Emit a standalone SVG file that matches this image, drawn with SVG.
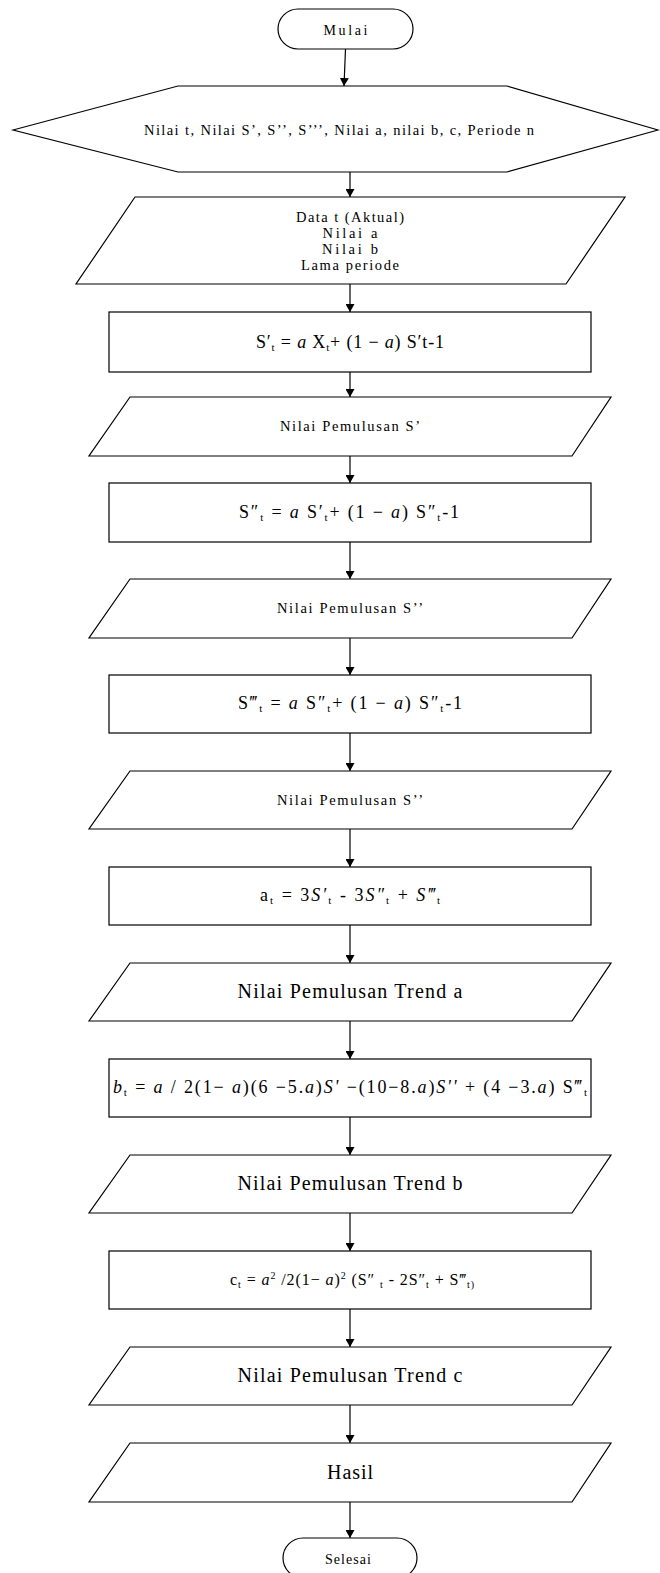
<svg xmlns="http://www.w3.org/2000/svg" width="660" height="1573" viewBox="0 0 660 1573">
<defs>
<marker id="arr" markerUnits="userSpaceOnUse" markerWidth="9" markerHeight="9" refX="8" refY="4.5" orient="auto">
<path d="M0,0 L8,4.5 L0,9 z" fill="#000"/>
</marker>
<style>
.shape{fill:#fff;stroke:#000;stroke-width:1.2}
.conn{stroke:#000;stroke-width:1.2;fill:none;marker-end:url(#arr)}
.t{font-family:"Liberation Serif","Times New Roman",serif;fill:#000;text-anchor:middle}
.s{font-size:14px}
.m{font-size:14.5px}
.f{font-size:18px}
.l{font-size:20px}
.i{font-style:italic}
</style>
</defs>
<rect width="660" height="1573" fill="#fff"/>
<g id="connectors">
<line class="conn" x1="345.5" y1="49" x2="344" y2="86"/>
<line class="conn" x1="350" y1="172" x2="350" y2="197"/>
<line class="conn" x1="350" y1="284" x2="350" y2="312"/>
<line class="conn" x1="350" y1="372" x2="350" y2="397"/>
<line class="conn" x1="350" y1="456" x2="350" y2="483"/>
<line class="conn" x1="350" y1="542" x2="350" y2="579"/>
<line class="conn" x1="350" y1="638" x2="350" y2="675"/>
<line class="conn" x1="350" y1="733" x2="350" y2="771"/>
<line class="conn" x1="350" y1="829" x2="350" y2="867"/>
<line class="conn" x1="350" y1="925" x2="350" y2="963"/>
<line class="conn" x1="350" y1="1021" x2="350" y2="1059"/>
<line class="conn" x1="350" y1="1117" x2="350" y2="1155"/>
<line class="conn" x1="350" y1="1213" x2="350" y2="1251"/>
<line class="conn" x1="350" y1="1309" x2="350" y2="1347"/>
<line class="conn" x1="350" y1="1405" x2="350" y2="1443"/>
<line class="conn" x1="350" y1="1502" x2="350" y2="1538"/>
</g>
<g id="mulai">
<rect class="shape" x="278" y="9" width="135" height="40" rx="20" ry="20"/>
<text class="t s" x="345.5" y="34.5" textLength="44" lengthAdjust="spacing">Mulai</text>
</g>
<g id="input-hex">
<polygon class="shape" points="13,130 178,86 507,86 658,130 507,172 178,172"/>
<text class="t m" x="339" y="134.5" textLength="390" lengthAdjust="spacing">Nilai t, Nilai S’, S’’, S’’’, Nilai a, nilai b, c, Periode n</text>
</g>
<g id="data-input">
<polygon class="shape" points="135,197 625,197 566,284 76,284"/>
<text class="t m" x="350" y="221.5" textLength="108" lengthAdjust="spacing">Data t (Aktual)</text>
<text class="t m" x="350" y="237.5" textLength="55" lengthAdjust="spacing">Nilai a</text>
<text class="t m" x="350" y="253.5" textLength="56" lengthAdjust="spacing">Nilai b</text>
<text class="t m" x="350" y="269.5" textLength="98" lengthAdjust="spacing">Lama periode</text>
</g>
<g id="proc-s1">
<rect class="shape" x="109" y="312" width="482" height="60"/>
<text class="t f" x="350" y="348" textLength="188" lengthAdjust="spacing">S′<tspan dy="3" font-size="11">t</tspan><tspan dy="-3"> = </tspan><tspan class="i">a</tspan> X<tspan dy="3" font-size="11">t</tspan><tspan dy="-3">+ (1 − </tspan><tspan class="i">a</tspan>) S′t-1</text>
</g>
<g id="out-s1">
<polygon class="shape" points="130,397 611,397 572,456 89,456"/>
<text class="t m" x="350" y="431" textLength="140" lengthAdjust="spacing">Nilai Pemulusan S’</text>
</g>
<g id="proc-s2">
<rect class="shape" x="109" y="483" width="482" height="59"/>
<text class="t f" x="349" y="518" textLength="220" lengthAdjust="spacing">S″<tspan dy="3" font-size="11">t</tspan><tspan dy="-3"> = </tspan><tspan class="i">a</tspan> S′<tspan dy="3" font-size="11">t</tspan><tspan dy="-3">+ (1 − </tspan><tspan class="i">a</tspan>) S″<tspan dy="3" font-size="11">t</tspan><tspan dy="-3">-1</tspan></text>
</g>
<g id="out-s2">
<polygon class="shape" points="130,579 611,579 572,638 89,638"/>
<text class="t m" x="350" y="613" textLength="146" lengthAdjust="spacing">Nilai Pemulusan S’’</text>
</g>
<g id="proc-s3">
<rect class="shape" x="109" y="675" width="482" height="58"/>
<text class="t f" x="350" y="709" textLength="224" lengthAdjust="spacing">S‴<tspan dy="3" font-size="11">t</tspan><tspan dy="-3"> = </tspan><tspan class="i">a</tspan> S″<tspan dy="3" font-size="11">t</tspan><tspan dy="-3">+ (1 − </tspan><tspan class="i">a</tspan>) S″<tspan dy="3" font-size="11">t</tspan><tspan dy="-3">-1</tspan></text>
</g>
<g id="out-s3">
<polygon class="shape" points="130,771 611,771 572,829 89,829"/>
<text class="t m" x="350" y="805" textLength="146" lengthAdjust="spacing">Nilai Pemulusan S’’</text>
</g>
<g id="proc-a">
<rect class="shape" x="109" y="867" width="482" height="58"/>
<text class="t f" x="350" y="901" textLength="180" lengthAdjust="spacing">a<tspan dy="3" font-size="11">t</tspan><tspan dy="-3"> = 3</tspan><tspan class="i">S′</tspan><tspan dy="3" font-size="11">t</tspan><tspan dy="-3"> - 3</tspan><tspan class="i">S″</tspan><tspan dy="3" font-size="11">t</tspan><tspan dy="-3"> + </tspan><tspan class="i">S‴</tspan><tspan dy="3" font-size="11">t</tspan></text>
</g>
<g id="out-a">
<polygon class="shape" points="130,963 611,963 572,1021 89,1021"/>
<text class="t l" x="350" y="998" textLength="225" lengthAdjust="spacing">Nilai Pemulusan Trend a</text>
</g>
<g id="proc-b">
<rect class="shape" x="109" y="1059" width="482" height="58"/>
<text class="t f" x="350" y="1093" textLength="474" lengthAdjust="spacing"><tspan class="i">b</tspan><tspan dy="3" font-size="11">t</tspan><tspan dy="-3"> = </tspan><tspan class="i">a</tspan> / 2(1− <tspan class="i">a</tspan>)(6 −5.<tspan class="i">a</tspan>)<tspan class="i">S'</tspan> −(10−8.<tspan class="i">a</tspan>)<tspan class="i">S''</tspan> + (4 −3.<tspan class="i">a</tspan>) S‴<tspan dy="3" font-size="11">t</tspan></text>
</g>
<g id="out-b">
<polygon class="shape" points="130,1155 611,1155 572,1213 89,1213"/>
<text class="t l" x="350" y="1190" textLength="225" lengthAdjust="spacing">Nilai Pemulusan Trend b</text>
</g>
<g id="proc-c">
<rect class="shape" x="109" y="1251" width="482" height="58"/>
<text class="t f" x="352" y="1285" style="font-size:16px" textLength="244" lengthAdjust="spacing">c<tspan dy="3" font-size="10">t</tspan><tspan dy="-3"> = </tspan><tspan class="i">a</tspan><tspan dy="-6" font-size="10">2</tspan><tspan dy="6"> /2(1− </tspan><tspan class="i">a</tspan>)<tspan dy="-6" font-size="10">2</tspan><tspan dy="6"> (S″ </tspan><tspan dy="3" font-size="10">t</tspan><tspan dy="-3"> - 2S″</tspan><tspan dy="3" font-size="10">t</tspan><tspan dy="-3"> + S‴</tspan><tspan dy="3" font-size="10">t)</tspan></text>
</g>
<g id="out-c">
<polygon class="shape" points="130,1347 611,1347 572,1405 89,1405"/>
<text class="t l" x="350" y="1382" textLength="225" lengthAdjust="spacing">Nilai Pemulusan Trend c</text>
</g>
<g id="hasil">
<polygon class="shape" points="130,1443 611,1443 572,1502 89,1502"/>
<text class="t l" x="350" y="1479" textLength="46" lengthAdjust="spacing">Hasil</text>
</g>
<g id="selesai">
<rect class="shape" x="283" y="1538" width="134" height="40" rx="20" ry="20"/>
<text class="t s" x="348" y="1564" textLength="46" lengthAdjust="spacing">Selesai</text>
</g>
</svg>
